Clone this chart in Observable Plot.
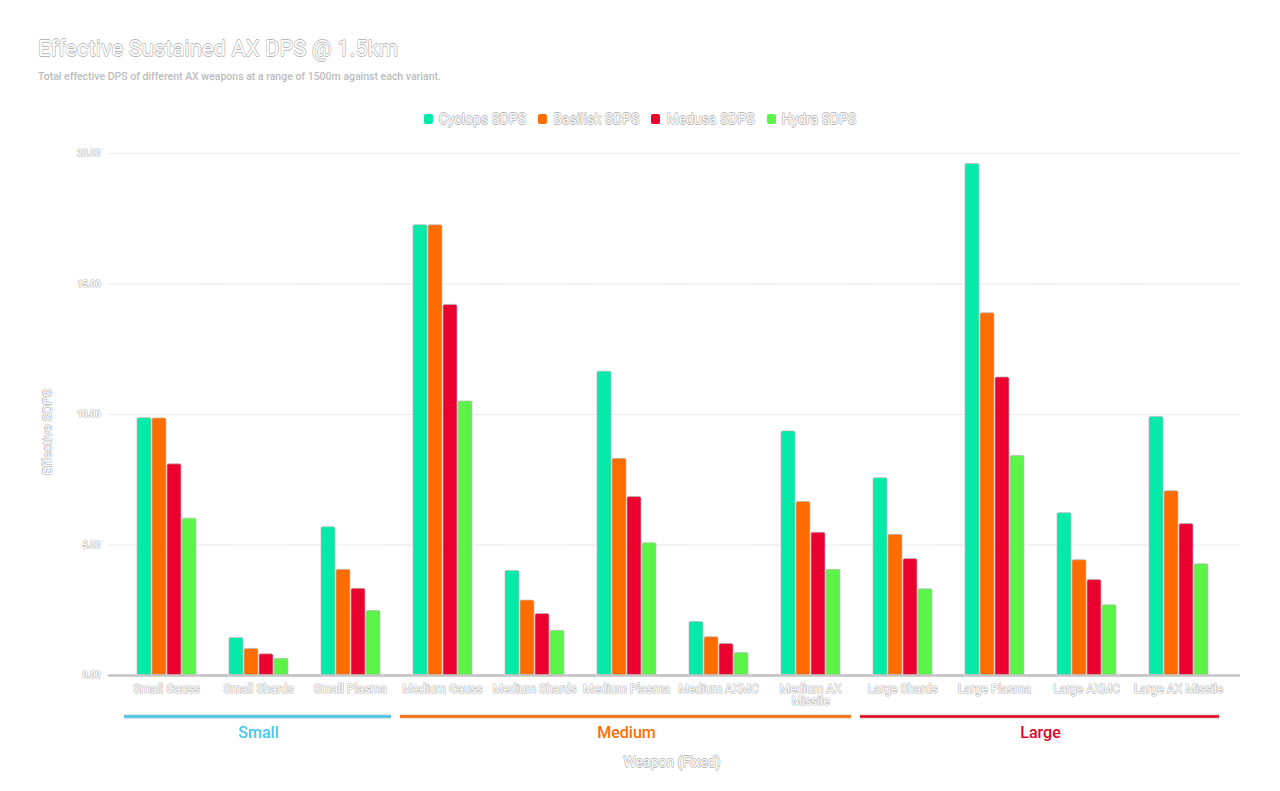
<!DOCTYPE html>
<html>
<head>
<meta charset="utf-8">
<script src="https://cdn.jsdelivr.net/npm/d3@7"></script>
<script src="https://cdn.jsdelivr.net/npm/@observablehq/plot@0.6"></script>
<style>
  html, body { margin: 0; padding: 0; background: #ffffff; width: 1280px; height: 791px; overflow: hidden; font-family: Roboto, "Noto Sans", sans-serif; }
  .o { color: #ffffff; text-shadow: -0.6px 0 #b8b8b8, 0.6px 0 #b8b8b8, 0 -0.6px #b8b8b8, 0 0.6px #b8b8b8, 0 0 0.6px #b8b8b8; }
  #title { position: absolute; left: 38px; top: 36px; font-size: 22px; line-height: 26px; white-space: nowrap; }
  #subtitle { position: absolute; left: 38px; top: 70px; font-size: 10.5px; line-height: 14px; white-space: nowrap; color: #bcbcbc; font-weight: 500; }
  #legend { position: absolute; left: 0; width: 1280px; top: 111px; display: flex; justify-content: center; gap: 12px; font-size: 14px; line-height: 16px; }
  #legend .item { display: flex; align-items: center; gap: 6px; }
  #legend .sw { width: 9px; height: 10px; border-radius: 2px; }
  #ylabel { position: absolute; left: 47px; top: 432px; transform: translate(-50%, -50%) rotate(-90deg); font-size: 13px; white-space: nowrap; }
  #xlabel { position: absolute; left: 672px; top: 762px; transform: translate(-50%, -50%); font-size: 14px; white-space: nowrap; }
  #main { position: absolute; left: 0; top: 140px; }
  #brackets { position: absolute; left: 0; top: 712px; }
  #main svg text { fill: #ffffff; stroke: #bababa; stroke-width: 1.2px; paint-order: stroke; stroke-linejoin: round; }
  #main g[aria-label^="y-axis"] text { font-size: 9px; font-weight: 700; }
</style>
</head>
<body>
<div id="title" class="o">Effective Sustained AX DPS @ 1.5km</div>
<div id="subtitle">Total effective DPS of different AX weapons at a range of 1500m against each variant.</div>
<div id="legend"></div>
<div id="ylabel" class="o">Effective SDPS</div>
<div id="xlabel" class="o">Weapon (Fixed)</div>
<div id="main"></div>
<div id="brackets"></div>
<script>
// ---- data ----
const weapons = ["Small Gauss", "Small Shards", "Small Plasma", "Medium Gauss", "Medium Shards", "Medium Plasma", "Medium AXMC", "Medium AX Missile", "Large Shards", "Large Plasma", "Large AXMC", "Large AX Missile"];
const weaponLabels = ["Small Gauss", "Small Shards", "Small Plasma", "Medium Gauss", "Medium Shards", "Medium Plasma", "Medium AXMC", "Medium AX\nMissile", "Large Shards", "Large Plasma", "Large AXMC", "Large AX Missile"];
const series = ["Cyclops SDPS", "Basilisk SDPS", "Medusa SDPS", "Hydra SDPS"];
const seriesColors = ["#05eaa8", "#ff6d00", "#ec0030", "#5df44a"];
const cyclops  = [9.86, 1.44, 5.68, 17.25, 4.00, 11.64, 2.05, 9.35, 7.56, 19.60, 6.22, 9.90];
const basilisk = [9.85, 1.02, 4.05, 17.25, 2.87, 8.30, 1.47, 6.65, 5.39, 13.88, 4.42, 7.06];
const medusa   = [8.09, 0.81, 3.32, 14.20, 2.36, 6.84, 1.21, 5.47, 4.46, 11.42, 3.66, 5.80];
const hydra    = [6.01, 0.64, 2.47, 10.50, 1.71, 5.07, 0.86, 4.05, 3.30, 8.41, 2.69, 4.26];
const yTicks = [0, 5, 10, 15, 20];
const groupNames = ["Small", "Medium", "Large"];
const groupStart = [0, 3, 8];
const groupEnd = [3, 8, 12];
const groupColors = ["#45c8ee", "#ff6d00", "#e8001e"];

// ---- tables ----
const seriesValues = [cyclops, basilisk, medusa, hydra];
const rows = weapons.flatMap((w, i) => series.map((s, j) => ({weapon: w, series: s, value: seriesValues[j][i]})));
const groups = groupNames.map((g, i) => ({name: g, start: groupStart[i], end: groupEnd[i]}));

// ---- legend ----
const legend = document.getElementById("legend");
series.forEach((s, j) => {
  const item = document.createElement("div");
  item.className = "item";
  const sw = document.createElement("div");
  sw.className = "sw";
  sw.style.background = seriesColors[j];
  const lab = document.createElement("span");
  lab.className = "o";
  lab.textContent = s;
  item.appendChild(sw);
  item.appendChild(lab);
  legend.appendChild(item);
});

// ---- main chart ----
const main = Plot.plot({
  width: 1280,
  height: 580,
  marginTop: 13,
  marginBottom: 45,
  marginLeft: 120,
  marginRight: 56,
  style: {fontFamily: "Roboto, 'Noto Sans', sans-serif", fontSize: "12px", background: "transparent"},
  facet: {data: rows, x: "weapon"},
  fx: {domain: weapons, padding: 0, axis: "bottom", label: null, tickSize: 0, tickPadding: 9,
       tickFormat: w => weaponLabels[weapons.indexOf(w)]},
  x: {domain: series, paddingInner: 0.07, paddingOuter: 1.05, axis: null},
  y: {domain: [0, 20], ticks: yTicks, tickFormat: d3.format(".2f"), tickSize: 0, tickPadding: 20, label: null},
  color: {domain: series, range: seriesColors},
  marks: [
    Plot.ruleY(yTicks.filter(d => d > 0), {stroke: "#ececec", strokeWidth: 1, insetLeft: -12, insetRight: -16}),
    Plot.barY(rows, {x: "series", y: "value", fill: "series", stroke: "#b8b8b8", strokeWidth: 0.7, rx: 1.5}),
    Plot.ruleY([0], {stroke: "#c4c4c4", strokeWidth: 2.5, insetLeft: -12, insetRight: -16})
  ]
});
document.getElementById("main").appendChild(main);

// ---- group brackets ----
const brackets = Plot.plot({
  width: 1280,
  height: 40,
  marginTop: 4,
  marginBottom: 4,
  marginLeft: 120,
  marginRight: 56,
  style: {fontFamily: "Roboto, 'Noto Sans', sans-serif", background: "transparent"},
  x: {domain: [0, 12], axis: null},
  y: {domain: [0, 1], axis: null},
  color: {domain: groupNames, range: groupColors},
  marks: [
    Plot.ruleY(groups, {y: () => 1, x1: "start", x2: "end", stroke: "#c8c8c8", strokeWidth: 4, insetLeft: 4, insetRight: 5}),
    Plot.ruleY(groups, {y: () => 1, x1: "start", x2: "end", stroke: "name", strokeWidth: 2.6, insetLeft: 4, insetRight: 5}),
    Plot.text(groups, {x: d => (d.start + d.end) / 2, y: () => 1, text: "name", fill: "name", dy: 16, fontSize: 16, fontWeight: 500})
  ]
});
document.getElementById("brackets").appendChild(brackets);
</script>
</body>
</html>
